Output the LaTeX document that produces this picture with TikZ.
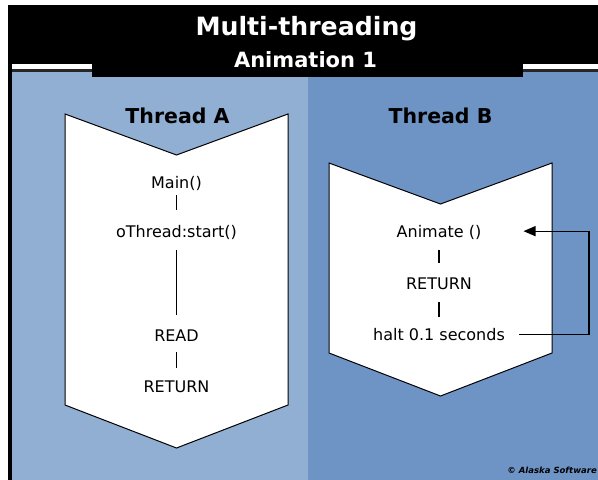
\documentclass[tikz,border=0pt]{standalone}
\usepackage{fontspec}
\setmainfont{DejaVu Sans}
\usetikzlibrary{arrows.meta}
\definecolor{panelA}{RGB}{145,175,211}
\definecolor{panelB}{RGB}{110,148,198}
\tikzset{
  chevron/.style={fill=white,draw=black,line width=1pt,line join=miter},
  txt/.style={inner sep=0pt,anchor=base,text height=11.7pt,text depth=0pt,font=\fontsize{16}{18}\selectfont},
  head/.style={inner sep=0pt,anchor=base,font=\bfseries\fontsize{20.5}{24}\selectfont},
  conn/.style={draw=black,line width=1.2pt,shorten <=12pt,shorten >=13pt},
  loopconn/.style={draw=black,line width=1.2pt,-{Triangle[length=12pt,width=10pt]},shorten <=14pt,shorten >=42pt}
}
\begin{document}
\begin{tikzpicture}[x=1pt,y=-1pt]
\useasboundingbox (0,0) rectangle (598,480);
\fill[white] (0,0) rectangle (598,480);
% banner
\fill[black] (8,5) rectangle (598,64);
\fill[white] (8,64) rectangle (598,69);
\fill[black!85] (8,69) rectangle (598,72);
\fill[panelA] (12,72) rectangle (308,480);
\fill[panelB] (308,72) rectangle (598,480);
\fill[black] (8,64) rectangle (12,480);
\fill[black] (92,5) rectangle (523,77);
\node[inner sep=0pt,anchor=base,text=white,font=\bfseries\fontsize{25.2}{30}\selectfont] (title) at (306.5,35) {Multi-threading};
\node[inner sep=0pt,anchor=base,text=white,font=\bfseries\fontsize{21}{25}\selectfont] (subtitle) at (305.5,67) {Animation 1};
% chevrons
\path[chevron] (65,114) -- (176.5,155) -- (288,114) -- (288,405) -- (176.5,448) -- (65,405) -- cycle;
\path[chevron] (329,163) -- (440.5,204) -- (552,163) -- (552,353) -- (440.5,396) -- (329,353) -- cycle;
% headings
\node[head] (thA) at (177.5,123) {Thread A};
\node[head] (thB) at (440.5,123) {Thread B};
% thread A
\node[txt] (main) at (176.5,188) {Main()};
\node[txt] (start) at (176.5,237) {oThread:start()};
\node[txt] (read) at (176.5,341) {READ};
\node[txt] (retA) at (176.5,392) {RETURN};
\draw[conn,shorten <=7pt,shorten >=15pt] (main.south) -- (start.north);
\draw[conn,shorten <=13pt,shorten >=14pt] (start.south) -- (read.north);
\draw[conn,shorten <=11pt,shorten >=12pt] (read.south) -- (retA.north);
% thread B
\node[txt] (animate) at (439,237) {Animate ()};
\node[txt] (retB) at (439,289) {RETURN};
\node[txt] (halt) at (439,340) {halt 0.1 seconds};
\draw[conn,shorten <=13pt,shorten >=14pt] (animate.south) -- (retB.north);
\draw[conn,shorten <=13pt,shorten >=11pt] (retB.south) -- (halt.north);
\coordinate (loopx) at (589,0);
\draw[loopconn] (halt.east) -| (loopx |- animate.east) -- (animate.east);
% copyright
\node[inner sep=0pt,anchor=base east,font=\bfseries\itshape\fontsize{8.5}{10}\selectfont] (copy) at (597,473) {© Alaska Software};
\end{tikzpicture}
\end{document}
